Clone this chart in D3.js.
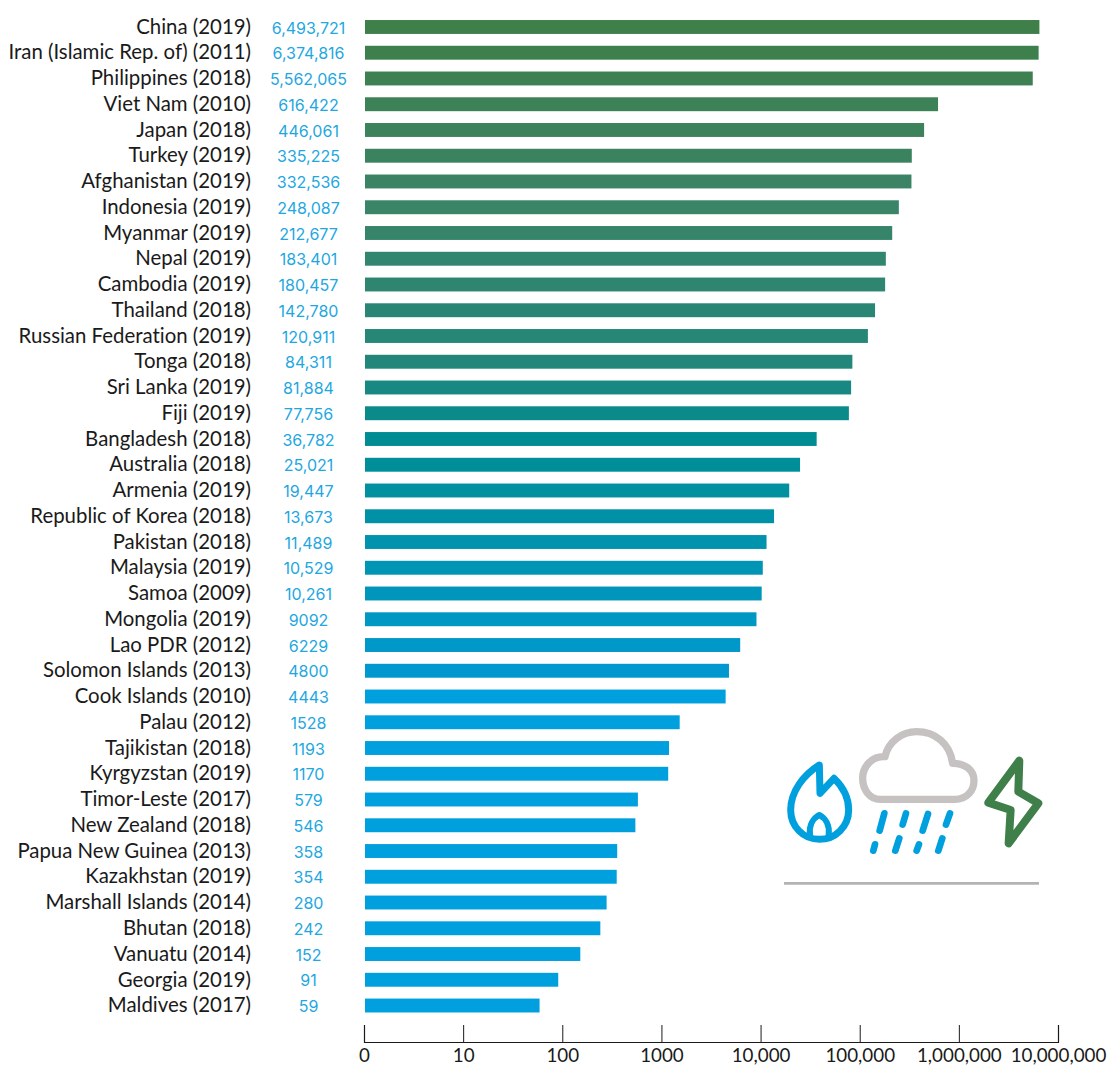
<!DOCTYPE html>
<html lang="en">
<head>
  <meta charset="UTF-8">
  <title>Disaster deaths bar chart</title>
  <script src="https://d3js.org/d3.v7.min.js"></script>
  <style>
    html, body { margin: 0; padding: 0; background: #fff; }
    svg { display: block; }
    .country { font-family: "Lato", sans-serif; font-size: 20.4px; fill: #1a1a1a; text-anchor: end; font-variant-ligatures: none; }
    .value { font-family: "Inter", sans-serif; font-size: 16px; fill: #1ea7e1; text-anchor: middle; }
    .tick text { font-family: "Lato", sans-serif; font-size: 18.8px; fill: #1a1a1a; }
  </style>
</head>
<body>
  <div id="chart"></div>
  <script>
    const countries = ['China (2019)', 'Iran (Islamic Rep. of) (2011)', 'Philippines (2018)', 'Viet Nam (2010)', 'Japan (2018)',
      'Turkey (2019)', 'Afghanistan (2019)', 'Indonesia (2019)', 'Myanmar (2019)', 'Nepal (2019)', 'Cambodia (2019)',
      'Thailand (2018)', 'Russian Federation (2019)', 'Tonga (2018)', 'Sri Lanka (2019)', 'Fiji (2019)', 'Bangladesh (2018)',
      'Australia (2018)', 'Armenia (2019)', 'Republic of Korea (2018)', 'Pakistan (2018)', 'Malaysia (2019)', 'Samoa (2009)',
      'Mongolia (2019)', 'Lao PDR (2012)', 'Solomon Islands (2013)', 'Cook Islands (2010)', 'Palau (2012)', 'Tajikistan (2018)',
      'Kyrgyzstan (2019)', 'Timor-Leste (2017)', 'New Zealand (2018)', 'Papua New Guinea (2013)', 'Kazakhstan (2019)',
      'Marshall Islands (2014)', 'Bhutan (2018)', 'Vanuatu (2014)', 'Georgia (2019)', 'Maldives (2017)'];
    const values = [6493721, 6374816, 5562065, 616422, 446061, 335225, 332536, 248087, 212677, 183401, 180457, 142780, 120911,
      84311, 81884, 77756, 36782, 25021, 19447, 13673, 11489, 10529, 10261, 9092, 6229, 4800, 4443, 1528, 1193, 1170, 579, 546,
      358, 354, 280, 242, 152, 91, 59];
    const valueLabels = ['6,493,721', '6,374,816', '5,562,065', '616,422', '446,061', '335,225', '332,536', '248,087', '212,677',
      '183,401', '180,457', '142,780', '120,911', '84,311', '81,884', '77,756', '36,782', '25,021', '19,447', '13,673', '11,489',
      '10,529', '10,261', '9092', '6229', '4800', '4443', '1528', '1193', '1170', '579', '546', '358', '354', '280', '242', '152',
      '91', '59'];
    const tickValues = [1, 10, 100, 1000, 10000, 100000, 1000000, 10000000];
    const tickLabels = ['0', '10', '100', '1000', '10,000', '100,000', '1,000,000', '10,000,000'];

    const svg = d3.select('#chart').append('svg').attr('width', 1109).attr('height', 1066);

    const x = d3.scaleLog().domain([1, 1e7]).range([364, 1058]);
    const y = d3.scaleBand().domain(countries).range([14.1, 1018.4]).paddingInner(0.46).paddingOuter(0.23);
    const rowColor = d3.scaleLinear()
      .domain([0, 7, 13, 16, 21, 25, 26])
      .range(['#3f7f49', '#3a8468', '#22877a', '#008c92', '#0095b5', '#0098cf', '#00a0df'])
      .clamp(true);

    svg.selectAll('.bar')
      .data(countries)
      .enter()
      .append('rect')
      .attr('class', 'bar')
      .attr('x', 365)
      .attr('y', d => y(d))
      .attr('width', (d, i) => x(values[i]) - 365)
      .attr('height', y.bandwidth())
      .attr('fill', (d, i) => rowColor(i));

    svg.selectAll('.country')
      .data(countries)
      .enter()
      .append('text')
      .attr('class', 'country')
      .attr('x', 251)
      .attr('y', d => y(d) + y.bandwidth() / 2)
      .attr('dy', '0.33em')
      .text(d => d);

    svg.selectAll('.value')
      .data(valueLabels)
      .enter()
      .append('text')
      .attr('class', 'value')
      .attr('x', 308.5)
      .attr('y', (d, i) => y(countries[i]) + y.bandwidth() / 2 + 1)
      .attr('dy', '0.35em')
      .text(d => d);

    // Axis, ticks point upward from the line
    const axis = d3.axisBottom(x)
      .tickValues(tickValues)
      .tickFormat((d, i) => tickLabels[i])
      .tickSize(-17);
    const axisG = svg.append('g').attr('transform', 'translate(0,1042)').call(axis);
    axisG.select('.domain').attr('stroke', '#1a1a1a').attr('stroke-width', 1.2);
    axisG.selectAll('.tick line').attr('stroke', '#1a1a1a');
    axisG.selectAll('.tick text').attr('y', 20).attr('dy', 0);

    // Icons, drawn in the 3x crop space
    const icons = svg.append('g').attr('transform', 'translate(770,720) scale(0.3333)')
      .attr('fill', 'none').attr('stroke-linecap', 'round').attr('stroke-linejoin', 'round');
    icons.append('path').attr('stroke', '#00a0df').attr('stroke-width', 21)
      .attr('d', 'M148,135 C100,165 62,215 62,270 C62,320 100,358 148,358 C196,358 236,320 236,270 C236,235 218,200 192,175 L150,220 Z');
    icons.append('path').attr('stroke', '#00a0df').attr('stroke-width', 18)
      .attr('d', 'M120,345 C116,315 130,295 148,285 C166,295 180,315 176,345');
    icons.append('path').attr('stroke', '#c6c2c1').attr('stroke-width', 22)
      .attr('d', 'M330,238 H555 C590,238 612,212 612,182 C612,150 585,130 548,130 C540,70 495,35 440,35 C395,35 355,65 345,110 C305,108 278,140 278,175 C278,210 300,238 330,238 Z');
    const rain = [[343, 280, 329, 332], [408, 280, 398, 314], [474, 282, 458, 332], [540, 280, 528, 314],
      [315, 373, 310, 392], [388, 355, 376, 392], [447, 373, 440, 392], [517, 355, 505, 392]];
    icons.selectAll('.drop')
      .data(rain)
      .enter()
      .append('line')
      .attr('class', 'drop')
      .attr('x1', d => d[0]).attr('y1', d => d[1]).attr('x2', d => d[2]).attr('y2', d => d[3])
      .attr('stroke', '#00a0df').attr('stroke-width', 20);
    icons.append('path').attr('stroke', '#3f7f49').attr('stroke-width', 24)
      .attr('d', 'M748,122 L745,215 L805,250 L716,370 L722,270 L655,248 Z');
    icons.append('line').attr('x1', 42).attr('x2', 807).attr('y1', 490).attr('y2', 490)
      .attr('stroke', '#b3b3b3').attr('stroke-width', 8).attr('stroke-linecap', 'butt');
  </script>
</body>
</html>
